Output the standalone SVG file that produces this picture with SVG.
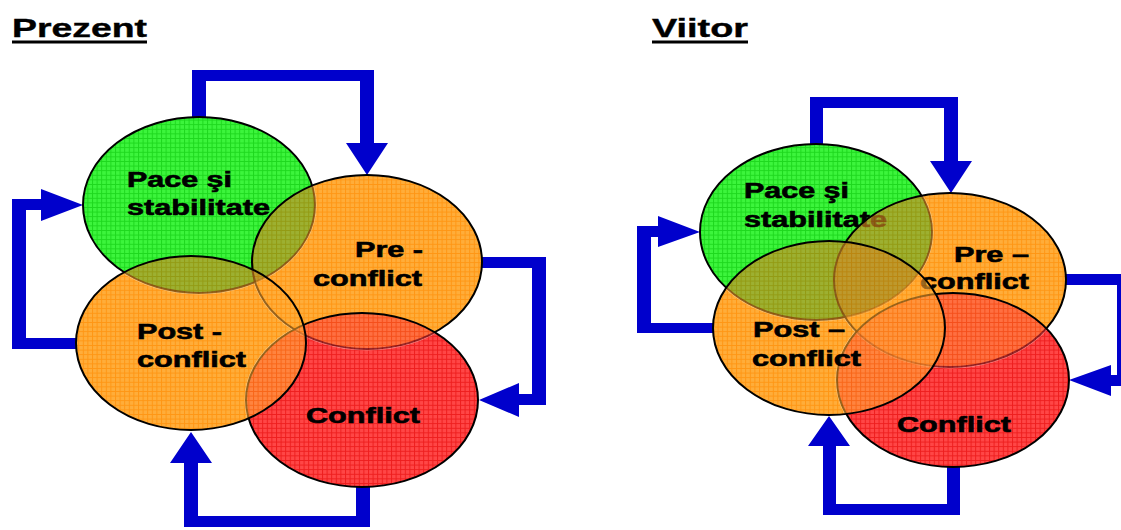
<svg xmlns="http://www.w3.org/2000/svg" width="1121" height="530" viewBox="0 0 1121 530">
  <style>
    .title { font-family: "Liberation Sans", Arial, sans-serif; font-weight: bold; font-size: 26px; fill: #000; stroke: #000; stroke-width: 0.4; }
    .lbl { font-family: "Liberation Sans", Arial, sans-serif; font-weight: bold; font-size: 22px; fill: #000; stroke: #000; stroke-width: 0.6; }
    .arrow { fill: #0000cc; }
    .rim { fill: none; stroke: #000; stroke-width: 2; }
    .glaze { fill-opacity: 0.6; }
    .shade { fill: #3a2a00; fill-opacity: 0.16; }
  </style>
  <defs>
    <!-- fine grid textures for the state fills -->
    <pattern id="texGreen" width="4.6" height="4.6" patternUnits="userSpaceOnUse">
      <rect width="4.6" height="4.6" fill="#3cf53c"/>
      <path d="M0 0.5H4.6M0.5 0V4.6" stroke="#1ed81e" stroke-width="1"/>
    </pattern>
    <pattern id="texOrange" width="4.6" height="4.6" patternUnits="userSpaceOnUse">
      <rect width="4.6" height="4.6" fill="#ffad3a"/>
      <path d="M0 0.5H4.6M0.5 0V4.6" stroke="#ff9614" stroke-width="1"/>
    </pattern>
    <pattern id="texRed" width="4.6" height="4.6" patternUnits="userSpaceOnUse">
      <rect width="4.6" height="4.6" fill="#ff4646"/>
      <path d="M0 0.5H4.6M0.5 0V4.6" stroke="#ee1e1e" stroke-width="1"/>
    </pattern>

    <!-- green areas, used to deepen the green/orange mix to olive -->
    <clipPath id="inG1"><ellipse cx="199" cy="205" rx="116" ry="88"/></clipPath>
    <clipPath id="inG2"><ellipse cx="816" cy="232" rx="116" ry="88"/></clipPath>

    <!-- masks: a shape stays solid only where no earlier shape lies beneath it -->
    <mask id="mP1" maskUnits="userSpaceOnUse" x="0" y="0" width="1121" height="530">
      <rect width="1121" height="530" fill="#fff"/>
      <ellipse cx="199" cy="205" rx="116" ry="88" fill="#000" stroke="#000" stroke-width="3"/>
    </mask>
    <mask id="mC1" maskUnits="userSpaceOnUse" x="0" y="0" width="1121" height="530">
      <rect width="1121" height="530" fill="#fff"/>
      <ellipse cx="199" cy="205" rx="116" ry="88" fill="#000" stroke="#000" stroke-width="3"/>
      <ellipse cx="367" cy="262" rx="115" ry="87" fill="#000" stroke="#000" stroke-width="3"/>
    </mask>
    <mask id="mQ1" maskUnits="userSpaceOnUse" x="0" y="0" width="1121" height="530">
      <rect width="1121" height="530" fill="#fff"/>
      <ellipse cx="199" cy="205" rx="116" ry="88" fill="#000" stroke="#000" stroke-width="3"/>
      <ellipse cx="367" cy="262" rx="115" ry="87" fill="#000" stroke="#000" stroke-width="3"/>
      <ellipse cx="362" cy="400" rx="116" ry="87" fill="#000" stroke="#000" stroke-width="3"/>
    </mask>
    <mask id="mP2" maskUnits="userSpaceOnUse" x="0" y="0" width="1121" height="530">
      <rect width="1121" height="530" fill="#fff"/>
      <ellipse cx="816" cy="232" rx="116" ry="88" fill="#000" stroke="#000" stroke-width="3"/>
    </mask>
    <mask id="mC2" maskUnits="userSpaceOnUse" x="0" y="0" width="1121" height="530">
      <rect width="1121" height="530" fill="#fff"/>
      <ellipse cx="816" cy="232" rx="116" ry="88" fill="#000" stroke="#000" stroke-width="3"/>
      <ellipse cx="950" cy="280" rx="116" ry="87" fill="#000" stroke="#000" stroke-width="3"/>
    </mask>
    <mask id="mQ2" maskUnits="userSpaceOnUse" x="0" y="0" width="1121" height="530">
      <rect width="1121" height="530" fill="#fff"/>
      <ellipse cx="816" cy="232" rx="116" ry="88" fill="#000" stroke="#000" stroke-width="3"/>
      <ellipse cx="950" cy="280" rx="116" ry="87" fill="#000" stroke="#000" stroke-width="3"/>
      <ellipse cx="953" cy="380" rx="116" ry="87" fill="#000" stroke="#000" stroke-width="3"/>
    </mask>
  </defs>

  <rect width="1121" height="530" fill="#fff"/>

  <!-- headings -->
  <g id="heading-prezent">
    <text class="title" x="12" y="37" textLength="135" lengthAdjust="spacingAndGlyphs">Prezent</text>
    <rect x="12" y="40.5" width="135" height="3" fill="#000"/>
  </g>
  <g id="heading-viitor">
    <text class="title" x="652" y="37" textLength="96" lengthAdjust="spacingAndGlyphs">Viitor</text>
    <rect x="652" y="40.5" width="96" height="3" fill="#000"/>
  </g>

  <!-- cycle arrows -->
  <g id="connectors">
    <!-- present -->
    <polygon class="arrow" points="192,121 192,70 374,70 374,143 388,143 367,175 346,143 360,143 360,81 206,81 206,121"/>
    <polygon class="arrow" points="478,257 546,257 546,405 519,405 519,417 479,400 519,383 519,394 532,394 532,268 478,268"/>
    <polygon class="arrow" points="356,483 356,516 198,516 198,463 212,463 191,432 170,463 184,463 184,527 370,527 370,483"/>
    <polygon class="arrow" points="80,338 26,338 26,210 41,210 41,221 83,205 41,189 41,199 12,199 12,349 80,349"/>
    <!-- future -->
    <polygon class="arrow" points="810,148 810,97 958,97 958,161 972,161 951,193 930,161 944,161 944,108 823,108 823,148"/>
    <polygon class="arrow" points="1062,274 1131,274 1131,386 1111,386 1111,396 1069,380 1111,365 1111,375 1117,375 1117,285 1062,285"/>
    <polygon class="arrow" points="947,463 947,504 836,504 836,446 850,446 829,416 808,446 823,446 823,515 960,515 960,463"/>
    <polygon class="arrow" points="717,323 651,323 651,237 658,237 658,247 700,232 658,216 658,226 637,226 637,333 717,333"/>
  </g>

  <!-- present: states -->
  <g id="p-pace">
    <ellipse cx="199" cy="205" rx="116" ry="88" fill="url(#texGreen)"/>
    <ellipse class="rim" cx="199" cy="205" rx="116" ry="88"/>
    <text class="lbl" x="127" y="187" textLength="105" lengthAdjust="spacingAndGlyphs">Pace şi</text>
    <text class="lbl" x="127" y="215" textLength="143" lengthAdjust="spacingAndGlyphs">stabilitate</text>
  </g>
  <g id="p-pre-conflict">
    <ellipse cx="367" cy="262" rx="115" ry="87" fill="url(#texOrange)" mask="url(#mP1)"/>
    <ellipse class="glaze" cx="367" cy="262" rx="115" ry="87" fill="url(#texOrange)"/>
    <ellipse class="shade" cx="367" cy="262" rx="115" ry="87" clip-path="url(#inG1)"/>
    <ellipse class="rim" cx="367" cy="262" rx="115" ry="87"/>
    <text class="lbl" x="355" y="257" textLength="68" lengthAdjust="spacingAndGlyphs">Pre -</text>
    <text class="lbl" x="313" y="286" textLength="109" lengthAdjust="spacingAndGlyphs">conflict</text>
  </g>
  <g id="p-conflict">
    <ellipse cx="362" cy="400" rx="116" ry="87" fill="url(#texRed)" mask="url(#mC1)"/>
    <ellipse class="glaze" cx="362" cy="400" rx="116" ry="87" fill="url(#texRed)"/>
    <ellipse class="rim" cx="362" cy="400" rx="116" ry="87"/>
    <text class="lbl" x="306" y="423" textLength="114" lengthAdjust="spacingAndGlyphs">Conflict</text>
  </g>
  <g id="p-post-conflict">
    <ellipse cx="191" cy="343" rx="115" ry="87" fill="url(#texOrange)" mask="url(#mQ1)"/>
    <ellipse class="glaze" cx="191" cy="343" rx="115" ry="87" fill="url(#texOrange)"/>
    <ellipse class="shade" cx="191" cy="343" rx="115" ry="87" clip-path="url(#inG1)"/>
    <ellipse class="rim" cx="191" cy="343" rx="115" ry="87"/>
    <text class="lbl" x="137" y="339" textLength="85" lengthAdjust="spacingAndGlyphs">Post -</text>
    <text class="lbl" x="137" y="367" textLength="109" lengthAdjust="spacingAndGlyphs">conflict</text>
  </g>

  <!-- future: states -->
  <g id="f-pace">
    <ellipse cx="816" cy="232" rx="116" ry="88" fill="url(#texGreen)"/>
    <ellipse class="rim" cx="816" cy="232" rx="116" ry="88"/>
    <text class="lbl" x="744" y="198" textLength="105" lengthAdjust="spacingAndGlyphs">Pace şi</text>
    <text class="lbl" x="744" y="227" textLength="143" lengthAdjust="spacingAndGlyphs">stabilitate</text>
  </g>
  <g id="f-pre-conflict">
    <ellipse cx="950" cy="280" rx="116" ry="87" fill="url(#texOrange)" mask="url(#mP2)"/>
    <ellipse class="glaze" cx="950" cy="280" rx="116" ry="87" fill="url(#texOrange)"/>
    <ellipse class="shade" cx="950" cy="280" rx="116" ry="87" clip-path="url(#inG2)"/>
    <ellipse class="rim" cx="950" cy="280" rx="116" ry="87"/>
    <text class="lbl" x="954" y="262" textLength="75" lengthAdjust="spacingAndGlyphs">Pre –</text>
    <text class="lbl" x="920" y="289" textLength="109" lengthAdjust="spacingAndGlyphs">conflict</text>
  </g>
  <g id="f-conflict">
    <ellipse cx="953" cy="380" rx="116" ry="87" fill="url(#texRed)" mask="url(#mC2)"/>
    <ellipse class="glaze" cx="953" cy="380" rx="116" ry="87" fill="url(#texRed)"/>
    <ellipse class="rim" cx="953" cy="380" rx="116" ry="87"/>
    <text class="lbl" x="897" y="432" textLength="114" lengthAdjust="spacingAndGlyphs">Conflict</text>
  </g>
  <g id="f-post-conflict">
    <ellipse cx="829" cy="328" rx="116" ry="87" fill="url(#texOrange)" mask="url(#mQ2)"/>
    <ellipse class="glaze" cx="829" cy="328" rx="116" ry="87" fill="url(#texOrange)"/>
    <ellipse class="shade" cx="829" cy="328" rx="116" ry="87" clip-path="url(#inG2)"/>
    <ellipse class="rim" cx="829" cy="328" rx="116" ry="87"/>
    <text class="lbl" x="753" y="337" textLength="92" lengthAdjust="spacingAndGlyphs">Post –</text>
    <text class="lbl" x="752" y="366" textLength="109" lengthAdjust="spacingAndGlyphs">conflict</text>
  </g>
</svg>
